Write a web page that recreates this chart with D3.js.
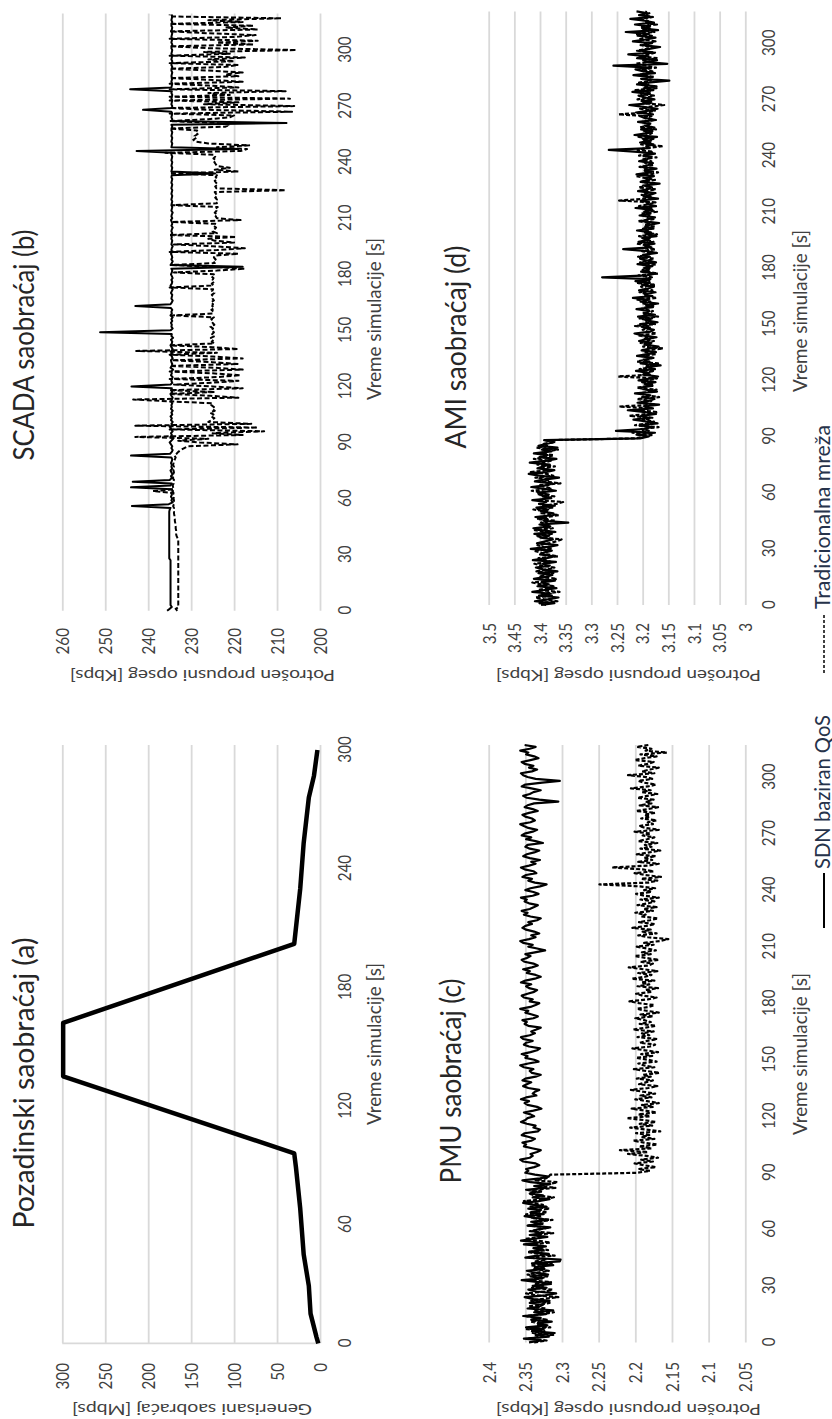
<!DOCTYPE html>
<html>
<head>
<meta charset="utf-8">
<script src="https://cdn.jsdelivr.net/npm/d3@7"></script>
<style>
  body { margin: 0; background: #fff; }
  svg { display: block; }
</style>
</head>
<body>
<div id="chart"></div>
<script>
// ---- data ----
const bgTime = [0, 3, 15, 29, 45, 68, 89, 96, 135, 162, 202, 230, 253, 276, 287, 300];
const bgTraffic = [2, 4, 11, 13, 19, 23, 28, 30, 299, 299, 30, 23, 19, 13, 7, 3];

const scadaTime = d3.range(0, 320);
const scadaSdn = [
  235.6,235.0,234.5,234.8,234.8,234.8,234.8,234.8,234.8,234.8,234.8,234.8,234.8,234.8,234.8,234.8,234.8,234.8,234.8,234.8,
  234.8,234.8,234.8,234.8,234.8,234.8,234.8,234.8,235.1,235.1,235.1,235.1,235.1,235.1,235.1,235.1,235.1,235.1,235.1,235.1,
  235.1,235.1,235.1,235.1,235.1,235.1,235.1,235.1,235.1,235.1,235.1,235.1,235.1,235.1,235.0,234.8,243.8,235.2,234.3,234.6,
  234.4,234.7,234.5,234.6,234.2,234.6,244.0,234.8,234.5,243.6,235.0,234.5,234.7,234.3,234.6,234.8,234.4,234.6,234.5,234.7,
  234.5,234.4,234.6,244.0,234.9,234.5,234.3,234.6,234.4,234.7,235.0,234.6,234.2,234.8,234.5,234.7,234.3,234.6,234.9,234.4,
  234.6,234.3,234.7,234.5,234.8,234.4,234.6,234.3,234.7,234.5,234.6,234.4,234.7,234.5,234.3,234.6,234.8,234.4,234.6,234.5,
  243.9,234.8,234.4,234.6,234.5,234.3,234.7,234.5,234.6,234.2,234.8,234.5,234.4,234.6,234.7,234.3,234.5,234.8,234.4,234.6,
  234.3,234.6,234.8,234.5,234.4,234.7,234.2,234.6,234.5,251.2,234.8,234.3,234.6,234.5,234.7,234.4,234.6,234.3,234.8,234.5,
  234.6,234.4,234.7,243.0,234.8,234.5,234.3,234.6,234.5,234.4,234.7,234.5,234.3,234.6,234.8,234.5,234.4,234.6,234.3,234.5,
  234.7,234.5,234.4,234.6,218.0,234.8,234.5,234.3,234.6,234.4,234.5,234.7,234.4,234.6,234.5,234.3,234.6,234.5,234.4,234.6,
  234.5,234.7,234.4,234.6,234.5,234.3,234.6,234.4,234.5,234.7,234.4,234.6,234.5,234.3,234.6,234.5,234.4,234.6,234.5,234.4,
  234.6,234.5,234.4,234.6,234.5,234.4,234.6,234.5,234.4,234.6,234.5,234.4,234.6,234.5,224.4,234.6,234.5,234.4,234.6,234.5,
  234.4,234.6,234.5,234.4,234.6,234.5,242.7,219.0,234.6,234.5,234.4,234.6,234.5,234.4,234.6,234.5,234.4,234.6,234.5,234.4,
  234.6,207.8,234.5,234.4,234.6,234.5,234.4,234.6,241.2,234.5,234.4,234.6,234.5,234.4,234.6,234.5,234.4,234.6,234.5,244.2,
  234.6,234.5,234.4,234.6,234.5,234.4,234.6,234.5,234.4,234.6,234.5,234.4,234.6,234.5,234.4,234.6,234.5,234.4,234.6,234.5,
  234.4,234.6,234.5,234.4,234.6,234.5,234.4,234.6,234.5,234.4,234.6,234.5,234.4,234.6,234.5,234.4,234.6,234.5,234.4,234.6
];
const scadaTrad = [
  233.2,233.6,232.9,233.0,233.0,233.0,233.0,233.0,233.0,233.0,233.0,233.0,233.0,233.0,233.0,233.0,233.0,233.0,233.0,233.0,
  233.0,233.0,233.0,233.0,233.0,233.0,233.0,233.0,233.0,233.0,233.0,233.0,233.0,233.0,233.0,233.0,233.0,233.0,233.0,233.2,
  233.4,233.5,233.5,233.5,233.6,233.6,233.7,233.7,233.8,233.8,233.9,233.9,234.0,234.0,234.1,234.0,234.2,234.0,234.1,234.0,
  234.1,234.0,234.2,234.1,238.9,234.0,234.2,234.3,234.1,234.2,234.0,234.3,234.1,234.2,234.0,234.1,234.3,234.0,234.2,234.1,
  234.0,233.8,233.6,233.9,233.4,233.0,232.4,231.6,230.8,219.2,228.0,233.0,226.0,243.0,218.0,225.0,213.0,235.0,214.5,243.0,
  216.0,226.0,225.2,224.6,225.4,224.8,225.6,224.5,225.1,224.7,225.3,225.0,235.0,243.5,219.0,225.5,235.0,224.5,235.0,218.0,
  225.0,234.0,225.0,219.0,235.0,224.0,218.5,225.0,235.0,218.0,224.5,235.0,219.0,225.0,234.5,218.0,225.0,235.0,224.0,242.8,
  219.0,225.0,235.0,224.6,225.2,224.8,225.4,224.5,225.1,224.7,225.3,224.9,225.5,224.6,225.0,224.8,225.3,224.7,234.5,225.0,
  224.8,225.3,224.6,225.1,224.9,225.4,224.7,225.0,224.8,225.2,224.6,225.1,224.9,235.0,224.8,225.2,224.6,225.0,224.8,225.3,
  224.7,234.0,224.0,217.5,225.0,234.5,224.5,224.9,224.3,224.7,224.5,219.0,235.0,224.0,217.5,225.0,234.0,220.0,224.5,226.0,
  219.5,235.0,224.0,225.0,224.6,224.2,224.8,224.4,234.5,218.5,224.0,224.3,223.9,224.5,224.1,224.4,223.8,234.5,224.0,224.3,
  224.0,224.4,223.9,224.2,224.5,208.0,224.1,224.4,223.8,224.2,224.5,223.9,224.3,224.0,235.0,219.0,224.5,221.0,224.0,224.3,
  224.6,224.2,224.8,224.4,224.7,236.0,218.5,217.0,224.0,216.5,226.0,229.0,229.5,228.8,229.2,228.5,229.0,228.6,235.0,222.0,
  221.0,224.0,235.0,226.0,221.0,220.0,235.0,206.5,226.0,235.0,206.0,227.0,219.0,235.0,207.0,235.0,221.0,226.0,208.0,235.0,
  219.0,226.0,235.0,218.0,225.0,235.0,219.0,222.0,218.0,226.0,235.0,222.0,219.0,235.0,220.0,226.0,217.5,235.0,221.0,227.0,
  205.5,226.0,235.0,215.5,224.0,214.5,235.0,220.0,215.0,226.0,235.0,214.5,222.0,215.5,235.0,218.0,226.0,209.0,235.0,235.0
];

const meterTime = d3.range(0, 318);
const pmuSdn = [
  2.345,2.328,2.352,2.318,2.336,2.310,2.341,2.325,2.349,2.320,2.333,2.314,2.342,2.329,2.353,2.322,2.338,2.312,2.347,2.331,
  2.326,2.344,2.317,2.339,2.351,2.323,2.308,2.335,2.346,2.321,2.340,2.315,2.332,2.355,2.327,2.343,2.319,2.336,2.348,2.324,
  2.337,2.312,2.341,2.303,2.302,2.350,2.334,2.318,2.345,2.326,2.339,2.322,2.352,2.331,2.356,2.338,2.320,2.344,2.327,2.340,
  2.333,2.316,2.347,2.329,2.342,2.319,2.336,2.351,2.325,2.343,2.330,2.346,2.321,2.338,2.353,2.332,2.317,2.340,2.326,2.344,
  2.335,2.349,2.322,2.338,2.316,2.343,2.354,2.330,2.318,2.337,2.350,2.346,2.349,2.338,2.331,2.336,2.353,2.357,2.344,2.340,
  2.343,2.334,2.329,2.341,2.352,2.349,2.354,2.342,2.337,2.345,2.355,2.351,2.333,2.330,2.339,2.336,2.348,2.356,2.350,2.347,
  2.338,2.343,2.352,2.339,2.328,2.334,2.347,2.351,2.345,2.356,2.349,2.335,2.340,2.337,2.331,2.346,2.353,2.348,2.342,2.354,
  2.350,2.336,2.329,2.341,2.344,2.339,2.352,2.357,2.346,2.332,2.338,2.350,2.347,2.355,2.343,2.334,2.330,2.345,2.352,2.349,
  2.340,2.353,2.356,2.344,2.337,2.342,2.335,2.329,2.346,2.351,2.348,2.354,2.339,2.333,2.341,2.350,2.346,2.357,2.343,2.336,
  2.331,2.344,2.340,2.352,2.355,2.347,2.338,2.334,2.345,2.349,2.342,2.356,2.350,2.337,2.329,2.336,2.348,2.344,2.353,2.341,
  2.333,2.339,2.351,2.355,2.348,2.343,2.350,2.337,2.323,2.334,2.346,2.340,2.353,2.357,2.345,2.336,2.342,2.331,2.338,2.349,
  2.354,2.350,2.341,2.346,2.334,2.329,2.343,2.352,2.347,2.355,2.344,2.338,2.333,2.345,2.351,2.348,2.356,2.340,2.332,2.339,
  2.350,2.343,2.330,2.321,2.337,2.346,2.341,2.354,2.349,2.335,2.339,2.351,2.356,2.345,2.336,2.342,2.330,2.344,2.353,2.348,
  2.338,2.331,2.344,2.350,2.347,2.326,2.336,2.349,2.342,2.355,2.351,2.340,2.334,2.346,2.352,2.357,2.343,2.337,2.341,2.350,
  2.354,2.345,2.333,2.340,2.351,2.347,2.338,2.305,2.331,2.348,2.353,2.344,2.339,2.329,2.342,2.355,2.350,2.327,2.303,2.336,
  2.347,2.353,2.356,2.341,2.334,2.345,2.339,2.351,2.355,2.343,2.332,2.338,2.349,2.346,2.357,2.344,2.336,2.351
];
const pmuTrad = [
  2.338,2.321,2.345,2.331,2.312,2.340,2.324,2.348,2.316,2.335,2.327,2.343,2.319,2.337,2.350,2.326,2.311,2.339,2.322,2.346,
  2.330,2.317,2.342,2.328,2.305,2.336,2.349,2.323,2.313,2.341,2.326,2.338,2.315,2.344,2.329,2.320,2.347,2.333,2.318,2.340,
  2.325,2.343,2.314,2.336,2.321,2.345,2.310,2.332,2.347,2.319,2.338,2.327,2.341,2.316,2.334,2.350,2.323,2.339,2.312,2.344,
  2.330,2.318,2.346,2.324,2.337,2.313,2.342,2.328,2.349,2.320,2.335,2.317,2.343,2.326,2.339,2.352,2.322,2.311,2.337,2.345,
  2.327,2.341,2.309,2.333,2.318,2.306,2.336,2.322,2.318,2.316,2.198,2.180,2.196,2.172,2.188,2.201,2.176,2.192,2.169,2.185,
  2.210,2.183,2.221,2.178,2.195,2.170,2.188,2.203,2.174,2.192,2.181,2.199,2.166,2.186,2.207,2.177,2.194,2.172,2.189,2.212,
  2.180,2.196,2.171,2.187,2.205,2.175,2.191,2.168,2.184,2.200,2.178,2.193,2.173,2.189,2.206,2.182,2.170,2.195,2.186,2.176,
  2.198,2.179,2.190,2.167,2.185,2.202,2.174,2.188,2.196,2.171,2.183,2.199,2.177,2.192,2.169,2.187,2.204,2.180,2.173,2.194,
  2.184,2.170,2.197,2.181,2.191,2.175,2.203,2.186,2.172,2.194,2.179,2.188,2.200,2.176,2.193,2.168,2.185,2.198,2.182,2.174,
  2.195,2.208,2.183,2.171,2.190,2.199,2.177,2.186,2.169,2.197,2.181,2.192,2.174,2.205,2.187,2.178,2.196,2.170,2.189,2.209,
  2.182,2.176,2.193,2.168,2.186,2.201,2.179,2.191,2.172,2.184,2.198,2.175,2.188,2.166,2.155,2.183,2.196,2.171,2.190,2.179,
  2.204,2.185,2.173,2.195,2.180,2.169,2.192,2.186,2.200,2.176,2.189,2.171,2.197,2.182,2.174,2.193,2.168,2.187,2.199,2.178,
  2.188,2.173,2.194,2.249,2.182,2.170,2.192,2.165,2.186,2.201,2.175,2.190,2.232,2.183,2.168,2.196,2.177,2.189,2.172,2.198,
  2.181,2.166,2.193,2.178,2.187,2.170,2.196,2.184,2.174,2.190,2.179,2.201,2.168,2.186,2.195,2.176,2.183,2.171,2.192,2.180,
  2.188,2.173,2.199,2.182,2.169,2.194,2.178,2.186,2.175,2.197,2.184,2.170,2.191,2.179,2.206,2.183,2.172,2.188,2.196,2.177,
  2.185,2.210,2.174,2.191,2.180,2.168,2.196,2.183,2.175,2.201,2.187,2.171,2.193,2.157,2.186,2.178,2.198,2.182
];
const amiSdn = [
  3.398,3.372,3.410,3.385,3.364,3.402,3.379,3.415,3.391,3.368,3.405,3.383,3.397,3.371,3.412,3.389,3.376,3.403,3.366,3.394,
  3.408,3.381,3.395,3.369,3.414,3.387,3.373,3.400,3.392,3.377,3.418,3.384,3.366,3.406,3.390,3.375,3.399,3.382,3.411,3.370,
  3.396,3.413,3.380,3.401,3.345,3.393,3.386,3.409,3.374,3.374,3.398,3.384,3.407,3.371,3.402,3.388,3.415,3.378,3.395,3.383,
  3.404,3.369,3.391,3.417,3.385,3.376,3.410,3.392,3.363,3.399,3.422,3.387,3.372,3.405,3.394,3.381,3.420,3.389,3.368,3.401,
  3.385,3.412,3.378,3.396,3.366,3.403,3.388,3.374,3.392,3.205,3.188,3.212,3.176,3.252,3.198,3.183,3.206,3.171,3.193,3.218,
  3.186,3.203,3.174,3.195,3.229,3.180,3.197,3.168,3.210,3.189,3.177,3.201,3.185,3.215,3.172,3.194,3.207,3.181,3.196,3.175,
  3.208,3.184,3.170,3.199,3.188,3.213,3.176,3.193,3.165,3.204,3.187,3.198,3.179,3.211,3.190,3.174,3.202,3.186,3.169,3.196,
  3.183,3.207,3.192,3.173,3.200,3.216,3.185,3.178,3.197,3.189,3.205,3.171,3.194,3.182,3.209,3.176,3.198,3.187,3.212,3.180,
  3.193,3.170,3.204,3.188,3.219,3.181,3.196,3.175,3.207,3.190,3.178,3.201,3.186,3.214,3.185,3.279,3.192,3.176,3.203,3.188,
  3.197,3.181,3.210,3.174,3.193,3.205,3.186,3.199,3.172,3.191,3.238,3.183,3.196,3.177,3.208,3.189,3.201,3.173,3.194,3.184,
  3.211,3.179,3.195,3.187,3.168,3.200,3.190,3.176,3.206,3.185,3.197,3.181,3.214,3.174,3.192,3.188,3.203,3.170,3.198,3.186,
  3.175,3.209,3.191,3.182,3.199,3.167,3.204,3.188,3.195,3.178,3.212,3.184,3.196,3.173,3.201,3.189,3.180,3.207,3.192,3.185,
  3.198,3.176,3.210,3.266,3.187,3.193,3.179,3.205,3.184,3.200,3.172,3.216,3.190,3.181,3.203,3.177,3.196,3.186,3.209,3.174,
  3.194,3.205,3.180,3.213,3.188,3.171,3.199,3.226,3.184,3.202,3.177,3.195,3.208,3.186,3.220,3.179,3.197,3.173,3.211,3.190,
  3.148,3.203,3.185,3.218,3.176,3.198,3.214,3.186,3.257,3.152,3.195,3.172,3.211,3.189,3.228,3.179,3.204,3.187,3.166,3.200,
  3.182,3.219,3.194,3.175,3.210,3.188,3.233,3.170,3.201,3.186,3.215,3.178,3.196,3.224,3.181,3.207,3.190,3.212
];
const amiTrad = [
  3.388,3.401,3.366,3.392,3.409,3.377,3.396,3.362,3.404,3.383,3.371,3.398,3.415,3.380,3.367,3.402,3.391,3.374,3.407,3.385,
  3.372,3.396,3.411,3.379,3.390,3.403,3.365,3.386,3.399,3.412,3.376,3.393,3.405,3.381,3.369,3.358,3.394,3.408,3.377,3.389,
  3.410,3.375,3.392,3.381,3.398,3.370,3.406,3.387,3.363,3.397,3.383,3.413,3.376,3.394,3.368,3.355,3.401,3.389,3.372,3.405,
  3.391,3.416,3.377,3.388,3.402,3.360,3.395,3.381,3.409,3.374,3.387,3.418,3.383,3.396,3.371,3.405,3.392,3.379,3.412,3.386,
  3.373,3.399,3.389,3.365,3.407,3.384,3.396,3.370,3.390,3.213,3.196,3.179,3.220,3.188,3.203,3.169,3.215,3.192,3.178,3.200,
  3.181,3.226,3.192,3.170,3.208,3.187,3.246,3.176,3.199,3.183,3.211,3.168,3.194,3.205,3.186,3.173,3.212,3.190,3.179,3.201,
  3.189,3.172,3.248,3.186,3.198,3.177,3.206,3.183,3.192,3.170,3.211,3.195,3.181,3.203,3.174,3.197,3.188,3.160,3.199,3.185,
  3.204,3.178,3.196,3.187,3.209,3.173,3.191,3.200,3.182,3.215,3.176,3.193,3.185,3.206,3.170,3.199,3.188,3.180,3.203,3.194,
  3.176,3.201,3.185,3.210,3.172,3.197,3.189,3.206,3.181,3.194,3.203,3.175,3.212,3.187,3.196,3.182,3.208,3.170,3.191,3.200,
  3.184,3.196,3.173,3.205,3.189,3.178,3.209,3.192,3.183,3.201,3.175,3.198,3.188,3.212,3.179,3.194,3.186,3.207,3.172,3.199,
  3.190,3.202,3.176,3.196,3.185,3.210,3.179,3.193,3.187,3.204,3.172,3.198,3.183,3.207,3.189,3.175,3.246,3.191,3.181,3.202,
  3.186,3.197,3.174,3.208,3.190,3.181,3.203,3.176,3.194,3.212,3.185,3.170,3.199,3.188,3.206,3.178,3.195,3.183,3.201,3.173,
  3.207,3.188,3.179,3.210,3.194,3.160,3.203,3.185,3.197,3.176,3.211,3.189,3.182,3.199,3.174,3.206,3.190,3.183,3.201,3.177,
  3.196,3.183,3.247,3.191,3.176,3.205,3.188,3.158,3.199,3.181,3.210,3.192,3.178,3.203,3.186,3.214,3.173,3.198,3.189,3.207,
  3.184,3.196,3.177,3.209,3.190,3.181,3.202,3.174,3.193,3.214,3.185,3.199,3.171,3.206,3.188,3.176,3.211,3.193,3.180,3.204,
  3.189,3.175,3.208,3.195,3.182,3.214,3.177,3.199,3.186,3.205,3.172,3.196,3.190,3.209,3.180,3.201,3.187,3.195
];

// tick labels
const bgTimeTicks = [0, 60, 120, 180, 240, 300];
const timeTicks = [0, 30, 60, 90, 120, 150, 180, 210, 240, 270, 300];
const bgTicks = [0, 50, 100, 150, 200, 250, 300];
const scadaTicks = [200, 210, 220, 230, 240, 250, 260];
const pmuTicks = [2.05, 2.1, 2.15, 2.2, 2.25, 2.3, 2.35, 2.4];
const amiTicks = [3, 3.05, 3.1, 3.15, 3.2, 3.25, 3.3, 3.35, 3.4, 3.45, 3.5];

// ---- layout: the figure is drawn landscape, then turned a quarter turn onto the page ----
const PAGE_W = 832, PAGE_H = 1419;
const FONT = "Lato, 'Open Sans', sans-serif";
const KX = 0.87; // glyphs are narrower along the time direction in the picture

const svg = d3.select("#chart").append("svg")
  .attr("width", PAGE_W)
  .attr("height", PAGE_H);

const fig = svg.append("g")
  .attr("transform", `translate(0,${PAGE_H}) rotate(-90)`);

function squeeze(sel) {
  sel.attr("transform", function() {
    const x = +d3.select(this).attr("x") || 0;
    return `translate(${x},0) scale(${KX},1) translate(${-x},0)`;
  });
}

function drawPanel(p) {
  const g = fig.append("g");
  const x = d3.scaleLinear().domain([0, p.tMax]).range(p.xRange);
  const y = d3.scaleLinear().domain(p.vDomain).range(p.yRange);
  const plotW = p.xRange[1] - p.xRange[0];

  const yAxis = g.append("g")
    .attr("transform", `translate(${p.xRange[0]},0)`)
    .call(d3.axisLeft(y)
      .tickValues(p.vTicks)
      .tickFormat(d => String(d))
      .tickSize(-plotW)
      .tickPadding(p.xRange[0] - p.vLabelEnd))
    .attr("font-family", FONT)
    .attr("font-size", 17.5);
  yAxis.select(".domain").remove();
  yAxis.selectAll("line").attr("stroke", "#d9d9d9").attr("stroke-width", 1.8);
  yAxis.selectAll("text").attr("fill", "#404040").attr("dy", "0.36em").call(squeeze);

  if (p.axisLine) {
    g.append("line")
      .attr("x1", x(0)).attr("x2", x(0))
      .attr("y1", y(p.vDomain[0])).attr("y2", y(p.vDomain[1]))
      .attr("stroke", "#d9d9d9").attr("stroke-width", 1.8);
  }

  const xAxis = g.append("g")
    .attr("transform", `translate(0,${p.yRange[0]})`)
    .call(d3.axisBottom(x).tickValues(p.tTicks).tickSize(0))
    .attr("font-family", FONT)
    .attr("font-size", 17.5);
  xAxis.select(".domain").remove();
  xAxis.selectAll("text")
    .attr("fill", "#404040")
    .attr("y", p.tLabelY - p.yRange[0])
    .attr("dy", "0.36em")
    .call(squeeze);

  p.series.forEach(s => {
    const line = d3.line()
      .x((d, i) => x(s.t[i]))
      .y(d => y(d));
    g.append("path")
      .datum(s.v)
      .attr("d", line)
      .attr("fill", "none")
      .attr("stroke", "#000")
      .attr("stroke-width", s.w)
      .attr("stroke-linejoin", "round")
      .attr("stroke-dasharray", s.dash || null);
  });

  // chart title
  g.append("text")
    .attr("x", p.titleX).attr("y", p.titleBase)
    .attr("text-anchor", "middle")
    .attr("font-family", FONT).attr("font-size", 29)
    .attr("fill", "#262626")
    .attr("textLength", p.titleLen).attr("lengthAdjust", "spacingAndGlyphs")
    .text(p.title);

  // time axis title
  g.append("text")
    .attr("x", p.tTitleX).attr("y", p.tTitleBase)
    .attr("text-anchor", "middle")
    .attr("font-family", FONT).attr("font-size", 19)
    .attr("fill", "#404040")
    .attr("textLength", 162).attr("lengthAdjust", "spacingAndGlyphs")
    .text("Vreme simulacije [s]");

  // value axis title
  g.append("text")
    .attr("transform", `translate(${p.vTitleBase},${p.vTitleY}) rotate(-90) scale(1,${KX})`)
    .attr("text-anchor", "middle")
    .attr("font-family", FONT).attr("font-size", 17)
    .attr("fill", "#404040")
    .attr("textLength", p.vTitleLen).attr("lengthAdjust", "spacingAndGlyphs")
    .text(p.vTitle);
}

const kbps = "Potrošen propusni opseg [Kbps]";

drawPanel({
  title: "Pozadinski saobraćaj (a)", titleX: 336, titleBase: 33.5, titleLen: 291,
  tMax: 302.5, xRange: [75.7, 674], vDomain: [0, 300], yRange: [320, 62.3],
  vTicks: bgTicks, tTicks: bgTimeTicks, vLabelEnd: 56, tLabelY: 345,
  tTitleX: 375, tTitleBase: 381,
  vTitle: "Generisani saobraćaj [Mbps]", vTitleBase: 15.5, vTitleY: 192, vTitleLen: 240,
  axisLine: true,
  series: [{t: bgTime, v: bgTraffic, w: 4.5}]
});

drawPanel({
  title: "SCADA saobraćaj (b)", titleX: 1074, titleBase: 33.5, titleLen: 231,
  tMax: 319.5, xRange: [808.3, 1405.4], vDomain: [200, 260], yRange: [320, 62.3],
  vTicks: scadaTicks, tTicks: timeTicks, vLabelEnd: 791, tLabelY: 345,
  tTitleX: 1100, tTitleBase: 381,
  vTitle: kbps, vTitleBase: 749, vTitleY: 202.5, vTitleLen: 265,
  series: [
    {t: scadaTime, v: scadaTrad, w: 2, dash: "5,2.5"},
    {t: scadaTime, v: scadaSdn, w: 2}
  ]
});

drawPanel({
  title: "PMU saobraćaj (c)", titleX: 338, titleBase: 461, titleLen: 205,
  tMax: 317, xRange: [76.6, 674], vDomain: [2.05, 2.4], yRange: [745.3, 488.7],
  vTicks: pmuTicks, tTicks: timeTicks, vLabelEnd: 57, tLabelY: 769,
  tTitleX: 365, tTitleBase: 807,
  vTitle: kbps, vTitleBase: 15.5, vTitleY: 628.5, vTitleLen: 265,
  series: [
    {t: meterTime, v: pmuTrad, w: 2.2, dash: "4,2"},
    {t: meterTime, v: pmuSdn, w: 2.2}
  ]
});

drawPanel({
  title: "AMI saobraćaj (d)", titleX: 1072, titleBase: 466, titleLen: 203,
  tMax: 317, xRange: [814, 1407.6], vDomain: [3, 3.5], yRange: [745.3, 488.7],
  vTicks: amiTicks, tTicks: timeTicks, vLabelEnd: 796, tLabelY: 769,
  tTitleX: 1108, tTitleBase: 807,
  vTitle: kbps, vTitleBase: 749, vTitleY: 628.5, vTitleLen: 265,
  series: [
    {t: meterTime, v: amiTrad, w: 2.2, dash: "4,2"},
    {t: meterTime, v: amiSdn, w: 2.2}
  ]
});

// legend
const legend = fig.append("g")
  .attr("font-family", FONT)
  .attr("font-size", 21)
  .attr("fill", "#26324a");

legend.append("line")
  .attr("x1", 491).attr("x2", 546).attr("y1", 824).attr("y2", 824)
  .attr("stroke", "#000").attr("stroke-width", 2);
legend.append("text")
  .attr("x", 550).attr("y", 829.5)
  .attr("textLength", 154).attr("lengthAdjust", "spacingAndGlyphs")
  .text("SDN baziran QoS");

legend.append("line")
  .attr("x1", 746).attr("x2", 806).attr("y1", 824).attr("y2", 824)
  .attr("stroke", "#000").attr("stroke-width", 1.5).attr("stroke-dasharray", "3,2");
legend.append("text")
  .attr("x", 810).attr("y", 829.5)
  .attr("textLength", 184).attr("lengthAdjust", "spacingAndGlyphs")
  .text("Tradicionalna mreža");
</script>
</body>
</html>
